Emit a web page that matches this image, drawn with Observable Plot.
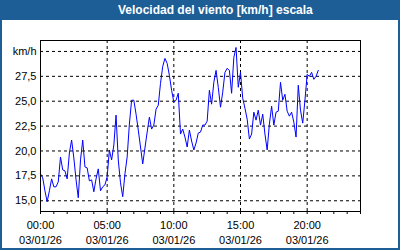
<!DOCTYPE html>
<html>
<head>
<meta charset="utf-8">
<script src="https://cdn.jsdelivr.net/npm/d3@7"></script>
<script src="https://cdn.jsdelivr.net/npm/@observablehq/plot@0.6"></script>
<style>
  html, body { margin: 0; padding: 0; background: #1d5e97; }
  #wrap { position: relative; width: 400px; height: 250px; background: #1d5e97; overflow: hidden; font-family: "Liberation Sans", Arial, sans-serif; }
  #panel { position: absolute; left: 2px; top: 20px; width: 396px; height: 228px; background: #ffffff; }
  #title { position: absolute; left: 118px; top: 0; height: 20px; line-height: 20px; color: #ffffff; font-weight: bold; font-size: 12px; white-space: nowrap; }
  #chart { position: absolute; left: 0; top: 0; }
</style>
</head>
<body>
<div id="wrap">
  <div id="panel"></div>
  <div id="chart"></div>
  <div id="title">Velocidad del viento [km/h] escala</div>
</div>
<script>
// ---- data (10-minute samples, 03/01/26) ----
const times = [
  "00:00","00:10","00:20","00:30","00:40","00:50",
  "01:00","01:10","01:20","01:30","01:40","01:50",
  "02:00","02:10","02:20","02:30","02:40","02:50",
  "03:00","03:10","03:20","03:30","03:40","03:50",
  "04:00","04:10","04:20","04:30","04:40","04:50",
  "05:00","05:10","05:20","05:30","05:40","05:50",
  "06:00","06:10","06:20","06:30","06:40","06:50",
  "07:00","07:10","07:20","07:30","07:40","07:50",
  "08:00","08:10","08:20","08:30","08:40","08:50",
  "09:00","09:10","09:20","09:30","09:40","09:50",
  "10:00","10:10","10:20","10:30","10:40","10:50",
  "11:00","11:10","11:20","11:30","11:40","11:50",
  "12:00","12:10","12:20","12:30","12:40","12:50",
  "13:00","13:10","13:20","13:30","13:40","13:50",
  "14:00","14:10","14:20","14:30","14:40","14:50",
  "15:00","15:10","15:20","15:30","15:40","15:50",
  "16:00","16:10","16:20","16:30","16:40","16:50",
  "17:00","17:10","17:20","17:30","17:40","17:50",
  "18:00","18:10","18:20","18:30","18:40","18:50",
  "19:00","19:10","19:20","19:30","19:40","19:50",
  "20:00","20:10","20:20","20:30","20:40","20:50"
];
const speed = [
  17.7, 17.3, 16.0, 14.9, 16.0, 17.2,
  16.4, 16.4, 16.9, 19.4, 18.1, 18.0,
  17.2, 19.8, 21.1, 19.3, 17.1, 15.3,
  19.1, 21.1, 18.4, 18.3, 17.0, 17.1,
  15.9, 17.2, 18.2, 16.0, 16.4, 16.6,
  17.4, 20.1, 19.1, 20.6, 23.6, 19.1,
  16.8, 15.4, 17.7, 19.4, 22.7, 25.1,
  25.1, 23.7, 22.1, 20.4, 18.7, 20.3,
  21.9, 23.4, 22.2, 22.6, 24.2, 24.6,
  26.8, 28.5, 29.3, 28.8, 27.6, 26.1,
  24.9, 25.1, 25.8, 21.7, 22.2, 21.4,
  20.4, 22.1, 21.0, 20.1, 20.8, 21.8,
  21.9, 22.6, 22.6, 23.0, 26.1, 24.7,
  26.9, 28.1, 26.4, 24.4, 25.9, 27.9,
  28.3, 28.1, 25.8, 29.4, 30.4, 26.4,
  27.9, 25.3, 24.3, 23.2, 21.2, 21.7,
  23.9, 23.1, 24.1, 22.6, 23.7, 21.7,
  20.1, 22.7, 24.5, 22.6, 23.9, 24.0,
  26.9, 25.1, 25.7, 24.0, 23.5, 23.9,
  22.9, 21.4, 26.6, 24.1, 22.8, 25.1,
  27.7, 27.5, 27.9, 27.2, 27.5, 28.1
];
const labelHours = [0, 5, 10, 15, 20];
const minorHours = [0,1,2,3,4,5,6,7,8,9,10,11,12,13,14,15,16,17,18,19,20,21,22,23,24];
const dateLabel = "03/01/26";
const yTicks = [15, 17.5, 20, 22.5, 25, 27.5];
const yGrid = [15, 17.5, 20, 22.5, 25, 27.5, 30];
const unitLabel = "km/h";

const data = times.map((t, i) => {
  const [h, m] = t.split(":").map(Number);
  return {h: h + m / 60, v: speed[i]};
});

const dash = "3,3";
const chart = Plot.plot({
  width: 400,
  height: 250,
  marginLeft: 40,
  marginRight: 40,
  marginTop: 40,
  marginBottom: 39,
  style: {background: "transparent", fontFamily: "'Liberation Sans', Arial, sans-serif", fontSize: "11px", color: "#000"},
  x: {domain: [0, 24]},
  y: {domain: [13.92, 31.1]},
  marks: [
    Plot.gridY(yGrid, {stroke: "#000", strokeOpacity: 1, strokeDasharray: dash}),
    Plot.gridX([5, 10, 15, 20], {stroke: "#000", strokeOpacity: 1, strokeDasharray: dash}),
    Plot.line(data, {x: "h", y: "v", stroke: "#0000ff", strokeWidth: 1}),
    Plot.frame({stroke: "#000"}),
    Plot.axisX(minorHours, {tickSize: 3, tickFormat: () => "", label: null, stroke: "#000"}),
    Plot.axisX(labelHours, {tickSize: 0, tickPadding: 7, lineHeight: 1.36, label: null, fill: "#000",
      tickFormat: d => `${String(d).padStart(2, "0")}:00\n${dateLabel}`}),
    Plot.axisY(yTicks, {tickSize: 0, tickPadding: 4, label: null, fill: "#000",
      tickFormat: d => d.toFixed(1).replace(".", ",")}),
    Plot.text([unitLabel], {frameAnchor: "top-left", textAnchor: "end", dx: -4, dy: 6.5, fill: "#000"})
  ]
});
document.getElementById("chart").appendChild(chart);
</script>
</body>
</html>
